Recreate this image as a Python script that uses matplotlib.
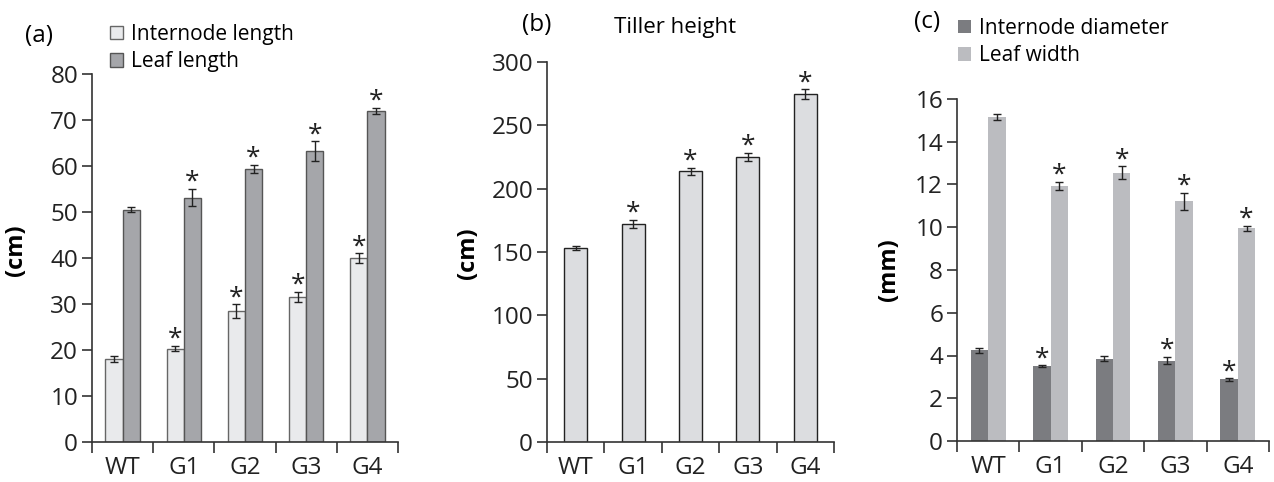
import numpy as np
import matplotlib
matplotlib.use('Agg')
import matplotlib.pyplot as plt
from matplotlib.patches import Patch

plt.rcParams['font.family'] = ['Open Sans', 'DejaVu Sans']

groups = ['WT', 'G1', 'G2', 'G3', 'G4']

# (a) lengths, cm
internode_len = [18.1, 20.3, 28.5, 31.5, 40.0]
internode_len_err = [0.6, 0.6, 1.45, 1.1, 1.0]
internode_len_sig = [False, True, True, True, True]
leaf_len = [50.5, 53.1, 59.4, 63.2, 72.0]
leaf_len_err = [0.6, 1.9, 0.9, 2.2, 0.7]
leaf_len_sig = [False, True, True, True, True]

# (b) tiller height, cm
tiller = [152.9, 172.3, 213.8, 224.8, 274.4]
tiller_err = [1.6, 3.0, 2.9, 3.3, 4.0]
tiller_sig = [False, True, True, True, True]

# (c) widths, mm
internode_dia = [4.24, 3.51, 3.84, 3.76, 2.88]
internode_dia_err = [0.1, 0.04, 0.12, 0.17, 0.06]
internode_dia_sig = [False, True, False, True, True]
leaf_wid = [15.16, 11.93, 12.55, 11.22, 9.96]
leaf_wid_err = [0.15, 0.2, 0.3, 0.4, 0.12]
leaf_wid_sig = [False, True, True, True, True]

fig = plt.figure(figsize=(12.74, 4.82), dpi=100, facecolor='white')
W, H = 1274, 482


def box(l, r, b, t):
    return [l / W, 1 - b / H, (r - l) / W, (b - t) / H]


ax_a = fig.add_axes(box(92, 398, 442, 74))
ax_b = fig.add_axes(box(547, 834, 442, 62))
ax_c = fig.add_axes(box(957, 1269, 441, 99))

x = np.arange(len(groups))
tick_col = '#333333'


def style(ax, ymax, step, fs):
    ax.set_xlim(-0.5, len(groups) - 0.5)
    ax.set_ylim(0, ymax)
    ax.set_yticks(np.arange(0, ymax + step / 2, step))
    for s in ['top', 'right']:
        ax.spines[s].set_visible(False)
    for s in ['left', 'bottom']:
        ax.spines[s].set_color(tick_col)
        ax.spines[s].set_linewidth(1.2)
    ax.set_xticks(x)
    ax.set_xticklabels(groups, fontsize=fs)
    ax.tick_params(axis='x', which='major', length=0, pad=10)
    ax.set_xticks(np.arange(-0.5, len(groups)), minor=True)
    ax.tick_params(axis='x', which='minor', length=8, width=1.2, color=tick_col, direction='out')
    ax.tick_params(axis='y', length=7, width=1.2, color=tick_col, labelsize=fs, pad=3)
    for lab in ax.get_yticklabels() + ax.get_xticklabels():
        lab.set_color('#222222')


def bars(ax, pos, vals, errs, sig, w, fc, ec):
    ax.bar(pos, vals, width=w, color=fc, edgecolor=ec, linewidth=1.0 if ec != 'none' else 0, zorder=2)
    ax.errorbar(pos, vals, yerr=errs, fmt='none', ecolor='#222222', elinewidth=1.0,
                capsize=3, capthick=1.0, zorder=3, clip_on=False)
    for p, v, e, s in zip(pos, vals, errs, sig):
        if s:
            ax.annotate('*', (p, v + e), xytext=(0, 0), textcoords='offset points',
                        ha='center', va='baseline', fontsize=19, color='#222222',
                        annotation_clip=False)


# (a)
w = 0.28
bars(ax_a, x - w / 2, internode_len, internode_len_err, internode_len_sig, w, '#e9eaec', '#666666')
bars(ax_a, x + w / 2, leaf_len, leaf_len_err, leaf_len_sig, w, '#a5a6aa', '#555555')
style(ax_a, 80, 10, 17.5)
ax_a.set_ylabel('(cm)', fontsize=17, fontweight='bold')
ax_a.yaxis.set_label_coords(-0.209, 0.52)
fig.text(25 / W, 1 - 36 / H, '(a)', fontsize=17.5, ha='left', va='center')
ax_a.legend(handles=[Patch(facecolor='#e9eaec', edgecolor='#666666', label='Internode length'),
                     Patch(facecolor='#a5a6aa', edgecolor='#555555', label='Leaf length')],
            loc='upper left', bbox_to_anchor=(110 / W, 1 - 24 / H), bbox_transform=fig.transFigure,
            frameon=False, fontsize=15, handlelength=0.6, handleheight=0.6, handletextpad=0.4,
            labelspacing=0.3, borderpad=0, borderaxespad=0)

# (b)
bars(ax_b, x, tiller, tiller_err, tiller_sig, 0.4, '#dcdde0', '#222222')
style(ax_b, 300, 50, 17.5)
ax_b.set_ylabel('(cm)', fontsize=17, fontweight='bold')
ax_b.yaxis.set_label_coords(-0.233, 0.497)
fig.text(522 / W, 1 - 25 / H, '(b)', fontsize=17.5, ha='left', va='center')
fig.text(675 / W, 1 - 27 / H, 'Tiller height', fontsize=16, ha='center', va='center')

# (c)
w = 0.28
bars(ax_c, x - w / 2, internode_dia, internode_dia_err, internode_dia_sig, w, '#7b7c80', 'none')
bars(ax_c, x + w / 2, leaf_wid, leaf_wid_err, leaf_wid_sig, w, '#bbbcc0', 'none')
style(ax_c, 16, 2, 17.5)
ax_c.set_ylabel('(mm)', fontsize=17, fontweight='bold')
ax_c.yaxis.set_label_coords(-0.18, 0.5)
fig.text(914 / W, 1 - 22 / H, '(c)', fontsize=17.5, ha='left', va='center')
ax_c.legend(handles=[Patch(facecolor='#7b7c80', edgecolor='none', label='Internode diameter'),
                     Patch(facecolor='#bbbcc0', edgecolor='none', label='Leaf width')],
            loc='upper left', bbox_to_anchor=(958 / W, 1 - 18 / H), bbox_transform=fig.transFigure,
            frameon=False, fontsize=15, handlelength=0.6, handleheight=0.6, handletextpad=0.4,
            labelspacing=0.3, borderpad=0, borderaxespad=0)

fig.savefig('out.png', dpi=100, facecolor='white')
